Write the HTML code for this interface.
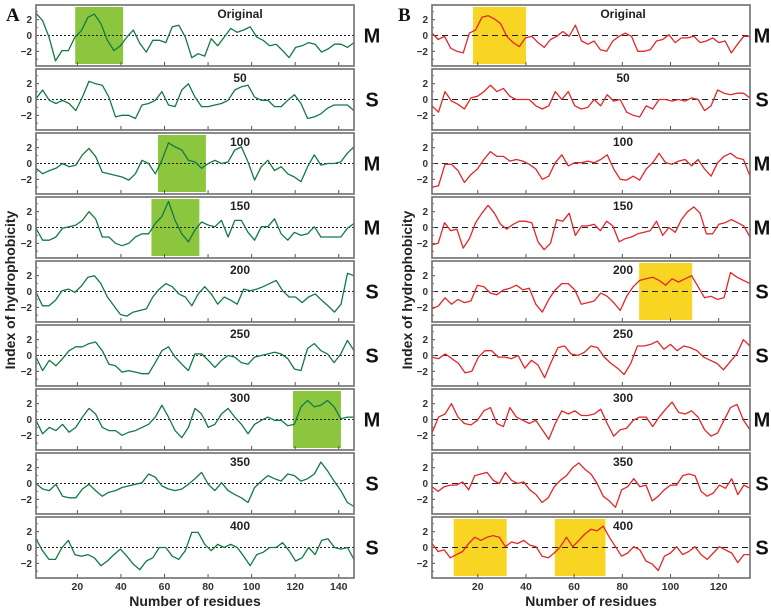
<!DOCTYPE html>
<html><head><meta charset="utf-8"><style>
html,body{margin:0;padding:0;background:#fff;}
svg{display:block;font-family:"Liberation Sans",Arial,sans-serif;}
</style></head><body>
<svg id="fig" width="771" height="610" viewBox="0 0 771 610" xmlns="http://www.w3.org/2000/svg"></svg>
<script>
// ---- data ----
const panelLabels = ["Original","50","100","150","200","250","300","350","400"];
const classA = ["M","S","M","M","S","S","M","S","S"];
const classB = ["M","S","M","M","S","S","M","S","S"];
const xTicksA = [20,40,60,80,100,120,140];
const xTicksB = [20,40,60,80,100,120];
const yTicks = [-2,0,2];
const residuesA = 147;
const residuesB = 133;
// highlight windows [start,end] in residues, per panel index
const boxesA = [[0,19,41],[2,57,79],[3,54,76],[6,119,141]];
const boxesB = [[0,18,40],[4,87,109],[8,10,32],[8,52,73]];

const seriesA0 = [2.8,1.9,-0.2,-3.2,-1.9,-1.9,-0.2,0.6,2.3,2.7,1.5,-0.6,-1.9,-1.3,-0.2,0.7,-1,-2.1,-0.6,-0.6,-0.9,1.1,1.3,-0.2,-2.8,-2.3,-2.6,-0.4,-1.3,-0.2,0.9,0.4,0.7,1.1,-0.2,-0.6,-1.3,-1.1,-1.9,-2.8,-1.5,-1.3,-0.9,-1.1,-2.1,-1.7,-1.1,-1.1,-1.5,-0.9];
const seriesA1 = [0.1,1.2,-0.1,-0.5,-0.1,-0.5,-1.4,0.3,2.3,2.0,1.8,0.3,-2.2,-2,-2,-2.4,-0.7,-0.5,-0.1,1,-0.7,-0.9,1.2,2,0.3,-0.9,-0.9,-0.7,-0.5,-0.1,1.2,1.6,1.8,0.3,-0.1,-0.1,-0.9,-0.9,-0.1,0.6,-0.5,-2.4,-2.2,-1.8,-1.1,-0.7,-0.7,-0.7,-1.4];
const seriesA2 = [-0.6,-1.3,-0.9,-0.6,0,-0.4,-0.2,1.1,1.9,0.9,-1.1,-1.3,-1.5,-1.7,-2.1,-1.3,0.4,0,-1.3,0.4,2.6,2.1,1.7,0.4,0.2,-0.6,0,0.4,0,0.2,1.7,2.1,0.2,-2.1,-0.4,0.4,-0.9,-0.4,-1.3,-1.7,-2.3,-0.4,1.1,-0.2,0,0,0.2,1.3,2.1];
const seriesA3 = [-0.1,-1.6,-1.6,-1.2,-0.1,0.1,0.3,0.9,2,1.1,-1.2,-1.2,-2,-2.3,-2,-1.2,-0.8,-0.8,0.5,1.4,3.3,0.9,-0.8,-1.8,-0.3,0.7,0.3,0.1,0.9,-1.2,0.9,0.9,-0.6,-1.6,0.1,0.1,1.1,-0.8,-1.6,-0.6,-1,-0.8,0.1,-1.2,-1.2,-1.2,-1.2,-0.1,0.5];
const seriesA4 = [-0.1,-1.8,-1.8,-1.1,0.1,0.3,-0.1,0.7,1.8,2,1,-0.7,-1.8,-2.9,-3.1,-2.6,-2.4,-2.2,-0.7,0.3,1,0.6,-0.3,-0.7,-1.8,-0.3,0.6,-0.3,-1.6,-0.7,-1.1,-1.6,0.3,0.1,0.3,0.6,1,1.4,0.1,-0.7,-0.7,-1.4,-0.7,-0.3,-1.1,-1.8,-2.6,-1.6,2.3,2];
const seriesA5 = [-0.2,-1.9,-0.6,-1.3,-0.4,0.6,1.1,1.1,1.5,1.7,0.6,-1.1,-1.3,-2.1,-1.9,-2.1,-2.3,-2.3,-0.9,0.6,1.1,-0.2,-1.1,-1.9,0.2,0.2,-0.6,-1.5,-0.6,0,-0.2,-0.9,-1.1,-0.2,0,0.2,0.4,0.2,-0.4,-1.7,-1.9,0.9,1.5,0.6,0.2,-0.9,0.2,1.9,0.6];
const seriesA6 = [-0.1,-1.8,-1,-1.4,-0.6,-1.6,-1,0.3,1.4,0.7,-1,-1.4,-1.4,-2,-1.6,-1.4,-1,-0.6,0.3,1.8,0.3,-1.4,-2.3,-1,1.4,0.7,-1,-0.6,0.7,1.4,0.3,-0.6,-1.8,-0.6,-0.1,0.3,-0.1,-0.1,-0.8,-0.6,1.6,2.4,1.6,1.8,2.4,1.6,0.1,0.3,0.3];
const seriesA7 = [0,-0.7,-0.9,-0.1,-1.6,-1.8,-1.8,-0.7,-0.1,-0.9,-1.6,-1.1,-0.9,-0.5,-0.3,-0.1,0.1,1.2,0.8,-0.3,-0.7,-0.9,-0.7,-0.1,0.6,1.4,-0.1,-0.9,0.1,-0.9,-1.4,-1.8,-2.4,-0.5,0.3,1,0.6,0.3,1.2,1,0.3,0.6,1.2,2.7,1.6,0.3,-0.9,-2.4,-2.9];
const seriesA8 = [1.1,-0.4,-1.5,-1.5,0,0.9,-0.9,-1.1,-0.9,-1.3,-2.3,-1.7,-0.9,-0.2,-1.1,-2.1,-2.8,-1.7,-1.3,0,0,-1.1,-1.5,-0.4,1.9,1.9,0.4,-0.4,0.4,0,0.4,0,-1.1,-2.3,-0.9,-0.6,0,0,0.6,-0.4,-1.7,-1.3,0,-0.9,0.9,1.1,0,-0.2,0,-1.5];

const seriesB0 = [0.3,-0.5,-0.1,-1.6,-2,-2.2,0.3,0.7,2.3,2.5,2.1,1.5,-0.1,-0.9,-1.4,-0.3,-0.1,-0.9,-1.5,-0.5,-0.1,0.5,-0.1,1.3,-0.7,-1.1,-0.7,-1.8,-2,-0.7,-0.1,0.3,-0.1,-2,-2,-1.8,-0.7,-0.5,0.1,-0.9,-0.3,-0.3,-0.1,-0.9,-0.7,-0.3,-0.9,-0.7,-2.2,-1.1,-0.1,-0.1];
const seriesB1 = [-0.8,-1.6,1,-0.2,-0.6,-1.2,0.2,0.4,1,1.8,1,1.4,0.4,0,0,0,-0.8,-1.2,-0.8,1,0,1,-0.8,-1.2,-1,0,-0.8,0.6,-0.2,0,-1.6,-2,-2.2,-0.8,-1.2,0,0,-0.2,0,-0.2,0.2,0,-1.4,-0.8,1.2,0.8,0.6,0.8,0.8,0.2];
const seriesB2 = [-3,-2.8,-0.1,-0.1,-0.9,-2.4,-1.4,-0.7,0.5,1.5,0.9,0.9,0.3,0.5,0.3,-0.1,-0.7,-2,-1.6,0.1,1.1,-0.3,0.1,0.1,0.3,0.1,0.5,1.1,-0.7,-2,-2.1,-1.6,-2.1,-0.7,0.1,1.3,0.1,-0.1,0.3,0.5,-0.3,0.5,-0.7,-1.6,0.1,0.9,1.3,0.7,0.5,-1.6];
const seriesB3 = [-2.2,-2,0.6,-0.4,-0.2,-2.6,-1.4,0.6,1.8,2.8,1.8,0.4,-0.2,0.4,0.8,0.8,0.6,-1.8,-2.8,-2,1,0.8,1.8,-1,0.2,0.2,0.4,-0.4,0.8,0.2,-1.8,-1.4,-1.2,-0.8,-0.6,-0.4,0.8,-1,0,-0.6,1,2,2.6,1.8,-0.8,-0.8,0.4,0.6,1,0.6,0.2,-1.2];
const seriesB4 = [-2.2,-1.8,-0.8,-1.6,-1,-1.4,-1.2,0.8,0.6,-0.2,-0.4,0.2,0.4,0.8,0.2,0.4,-1.6,-2.6,-1,0.2,1,1,0.2,-1.6,-1.4,-1.2,-0.2,-0.6,-1.4,-2.4,-0.6,0.6,1.4,1.6,1.8,1.4,0.8,1.6,1.2,1.6,2,0.6,-0.8,-0.6,-1,-0.8,2.4,1.8,1.4,1];
const seriesB5 = [-0.2,-0.4,0.2,-0.4,-1,-2.2,-2,-0.2,0.6,0.6,-0.2,-0.2,-0.4,0,-1.6,-0.6,-1.2,-2.8,-0.8,1,1.2,0.2,0,0.4,1.2,1,-0.2,-1,-1.6,-2.4,-1,1.2,1.2,1.4,1.8,0.8,1.4,0.6,1.2,1,0.6,-0.2,-0.6,-1,-1.8,-0.8,0.2,2,1.2];
const seriesB6 = [-1.7,0.3,0.7,2,0.3,-0.5,-0.7,-0.1,1.1,1.5,-0.5,-0.9,1.5,0.3,-0.1,-0.5,-0.1,-1.3,-2.5,-0.5,1.1,0.7,1.1,0.5,0.5,0.7,1.3,-0.5,-2.1,-1.3,-1.1,-0.1,0.3,0.3,-0.9,0.3,1.3,2.2,0.9,0.7,1.1,0.3,-1.3,-2.1,-1.7,-0.1,1.5,1.9,-0.1,-1.3];
const seriesB7 = [-0.4,-1,-0.4,-0.2,-0.2,0.2,-0.8,1,1.2,1.4,0.4,0,1.4,0.4,0,0.2,-0.8,-1.4,-2.4,-1.8,-0.4,0.4,1,2,2.6,1.8,1.2,0,-1.6,-2.2,-3,-0.8,-0.4,0.6,-0.4,-0.2,-2.2,-1.6,-0.8,-0.2,-0.2,1,1.2,1,-1,-1.6,-1.2,-0.2,-0.6,0.6,-1.4,-0.2,-0.6];
const seriesB8 = [0.5,-0.5,-0.3,-1.3,-0.9,-0.5,0.5,1.3,0.9,1.3,1.5,1.3,0.1,0.7,0.5,0.9,0.3,0.1,-1.1,-1.3,-0.7,0.1,1.3,0.1,0.9,1.7,2.3,2.1,2.7,1.3,0.1,-1.1,-0.7,0.1,-0.3,-1.7,-2.1,-2.9,-1.1,-0.7,0.1,-0.9,-0.5,0.1,-0.9,-1.5,-0.7,0.1,-0.3,-0.7,-1.9,-0.9,-0.9];

const seriesA = [seriesA0,seriesA1,seriesA2,seriesA3,seriesA4,seriesA5,seriesA6,seriesA7,seriesA8];
const seriesB = [seriesB0,seriesB1,seriesB2,seriesB3,seriesB4,seriesB5,seriesB6,seriesB7,seriesB8];

// ---- layout ----
const NS = "http://www.w3.org/2000/svg";
const svg = document.getElementById("fig");
const TOP0 = 5, PITCH = 64, PH = 61, YMIN = -3.85, YMAX = 3.85;
function mk(tag, attrs, parent){ const e=document.createElementNS(NS,tag); for(const k in attrs) e.setAttribute(k,attrs[k]); (parent||svg).appendChild(e); return e; }

function drawColumn(cfg){
  const {x0,x1,nRes,series,boxes,classes,color,boxColor,dash,ticks,prefix,labelX,classX} = cfg;
  const xs = r => x0 + (r-1)/(nRes-1)*(x1-x0);
  for(let i=0;i<9;i++){
    const top = TOP0 + i*PITCH;
    const ys = v => top + (YMAX - v)/(YMAX-YMIN)*PH;
    const g = mk("g",{});
    
    
    boxes.filter(b=>b[0]===i).forEach(b=>{
      const r = mk("rect",{x:xs(b[1]),y:top+2,width:xs(b[2])-xs(b[1]),height:PH-4,fill:boxColor},g);
      
      
    });
    const z = mk("line",{x1:x0,x2:x1,y1:ys(0),y2:ys(0),stroke:"#222","stroke-width":1,"stroke-dasharray":dash},g);
    
    
    // y ticks
    yTicks.forEach(t=>{
      mk("line",{x1:x0,x2:x0+3,y1:ys(t),y2:ys(t),stroke:"#555","stroke-width":1},g);
      const tl = mk("text",{x:x0-4,y:ys(t)+3.5,"text-anchor":"end","font-size":10,"font-weight":"bold",fill:"#333"},g);
      tl.textContent = t<0 ? "\u2212"+Math.abs(t) : String(t);
      
      
    });
    [-3,-1,1,3].forEach(t=>mk("line",{x1:x0,x2:x0+2,y1:ys(t),y2:ys(t),stroke:"#777","stroke-width":1},g));
    ticks.forEach(t=>{
      mk("line",{x1:xs(t),x2:xs(t),y1:top+PH,y2:top+PH-4,stroke:"#555","stroke-width":1},g);
    });
    // series line
    const vals = series[i];
    const n = vals.length;
    const pts = vals.map((v,k)=> xs(1+k*(nRes-1)/(n-1)).toFixed(1)+","+ys(v).toFixed(1)).join(" ");
    const pl = mk("polyline",{points:pts,fill:"none",stroke:color,"stroke-width":1.3,"stroke-linejoin":"round"},g);
    
    
    // frame
    const fr = mk("rect",{x:x0,y:top,width:x1-x0,height:PH,fill:"none",stroke:"#6e6e6e","stroke-width":1.6},g);
    
    
    const lab = mk("text",{x:labelX,y:top+13,"text-anchor":"middle","font-size":12,"font-weight":"bold",fill:"#222"},g);
    lab.textContent = panelLabels[i];
    
    
    const cl = mk("text",{x:classX,y:ys(0)+7,"text-anchor":"middle","font-size":20,"font-weight":"bold",fill:"#111"},g);
    cl.textContent = classes[i];
    
    
  }
  const bottom = TOP0 + 8*PITCH + PH;
  ticks.forEach(t=>{
    const tl = mk("text",{x:xs(t),y:bottom+12,"text-anchor":"middle","font-size":10.5,"font-weight":"bold",fill:"#333"});
    tl.textContent = t;
    
    
  });
  const xt = mk("text",{x:(x0+x1)/2,y:bottom+28,"text-anchor":"middle","font-size":14,"font-weight":"bold",fill:"#222"});
  xt.textContent = "Number of residues";
  
  
}

drawColumn({x0:36,x1:354,nRes:residuesA,series:seriesA,boxes:boxesA,classes:classA,color:"#137a45",boxColor:"#8cc63f",dash:"2,2",ticks:xTicksA,prefix:"a",labelX:240,classX:372});
drawColumn({x0:432,x1:750,nRes:residuesB,series:seriesB,boxes:boxesB,classes:classB,color:"#e3262b",boxColor:"#f8d523",dash:"6,4",ticks:xTicksB,prefix:"b",labelX:623,classX:762});

const yA = mk("text",{x:0,y:0,"text-anchor":"middle","font-size":14,"font-weight":"bold",fill:"#222",transform:"translate(15,290) rotate(-90)"});
yA.textContent = "Index of hydrophobicity";


const yB = mk("text",{x:0,y:0,"text-anchor":"middle","font-size":14,"font-weight":"bold",fill:"#222",transform:"translate(412,290) rotate(-90)"});
yB.textContent = "Index of hydrophobicity";


const pA = mk("text",{x:6,y:21,"font-size":19,"font-weight":"bold","font-family":"Liberation Serif, serif",fill:"#111"});
pA.textContent = "A";


const pB = mk("text",{x:398,y:21,"font-size":19,"font-weight":"bold","font-family":"Liberation Serif, serif",fill:"#111"});
pB.textContent = "B";


</script>
</body></html>
